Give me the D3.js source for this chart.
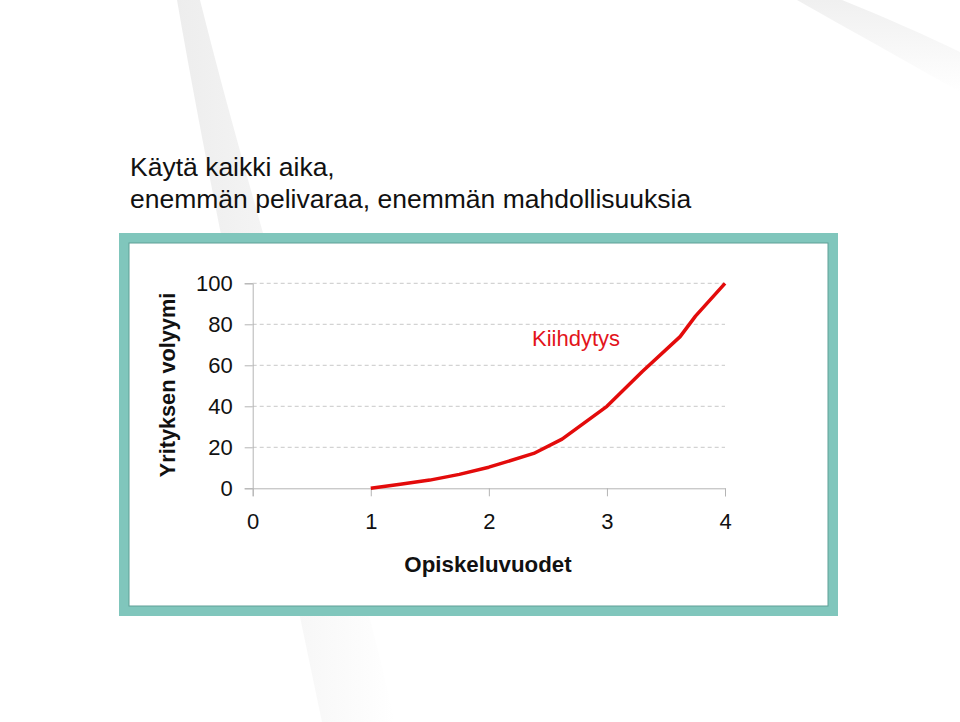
<!DOCTYPE html>
<html><head><meta charset="utf-8">
<script src="https://cdn.jsdelivr.net/npm/d3@7"></script>
<style>body{margin:0;background:#fff;}svg{display:block;font-family:Arial,"Liberation Sans",sans-serif;}</style>
</head><body>
<script>
const titleLines = ["Käytä kaikki aika,", "enemmän pelivaraa, enemmän mahdollisuuksia"];
const xTicks = [0, 1, 2, 3, 4];
const yTicks = [0, 20, 40, 60, 80, 100];
const years = [1, 1.25, 1.5, 1.75, 2, 2.38, 2.62, 3, 3.3, 3.62, 3.75, 4];
const volume = [0, 2, 4, 6.8, 10.3, 17, 24, 40, 57, 74, 84, 100];
const seriesLabel = "Kiihdytys";
const xTitle = "Opiskeluvuodet";
const yTitle = "Yrityksen volyymi";

const W = 960, H = 722;
const FF = "Arial, 'Liberation Sans', sans-serif";
const svg = d3.select("body").append("svg").attr("width", W).attr("height", H);
const defs = svg.append("defs");
const g1 = defs.append("linearGradient").attr("id","sw1").attr("x1","0").attr("y1","0").attr("x2","1").attr("y2","0");
g1.append("stop").attr("offset","0").attr("stop-color","#ededed");
g1.append("stop").attr("offset","0.45").attr("stop-color","#f5f5f5");
g1.append("stop").attr("offset","1").attr("stop-color","#ffffff");
const g2 = defs.append("linearGradient").attr("id","sw2").attr("x1","0").attr("y1","0").attr("x2","0").attr("y2","1");
g2.append("stop").attr("offset","0").attr("stop-color","#f0f0f0");
g2.append("stop").attr("offset","1").attr("stop-color","#ffffff");

svg.append("rect").attr("width",W).attr("height",H).attr("fill","#fff");
// background swooshes
svg.append("path").attr("d","M177,0 C215,220 280,520 322,722 L395,722 C350,520 255,220 200,0 Z").attr("fill","url(#sw1)");
svg.append("path").attr("d","M797,0 L842,0 C882,16 925,35 960,52 L960,92 C915,66 850,30 797,0 Z").attr("fill","url(#sw2)");

// title
svg.append("g").selectAll("text").data(titleLines).join("text")
  .attr("x",130).attr("y",(d,i)=>176+i*32).attr("font-size",26.5).attr("fill","#111").text(d=>d);

// frame
svg.append("rect").attr("x",124).attr("y",238).attr("width",709).attr("height",373)
  .attr("fill","#fff").attr("stroke","#80c6bc").attr("stroke-width",10);
svg.append("rect").attr("x",129).attr("y",243).attr("width",699).attr("height",363)
  .attr("fill","none").attr("stroke","#5e9f96").attr("stroke-width",1);

const x = d3.scaleLinear().domain([0,4]).range([252.7,725]);
const y = d3.scaleLinear().domain([0,100]).range([488.3,283.3]);

// gridlines
svg.append("g").selectAll("line").data(yTicks.filter(d=>d>0)).join("line")
  .attr("x1",x(0)).attr("x2",x(4)).attr("y1",d=>y(d)).attr("y2",d=>y(d))
  .attr("stroke","#c8c8c8").attr("stroke-dasharray","4,3").attr("stroke-width",1);

// y axis
const ya = svg.append("g").attr("transform",`translate(${x(0)},0)`)
  .call(d3.axisLeft(y).tickValues(yTicks).tickFormat(d3.format("d")).tickSize(8).tickPadding(12));
ya.select(".domain").attr("stroke","#b4b4b4");
ya.selectAll(".tick line").attr("stroke","#b4b4b4");
ya.selectAll(".tick text").attr("font-size",22).attr("font-family",FF).attr("fill","#111");

// x axis
const xa = svg.append("g").attr("transform",`translate(0,${y(0)})`)
  .call(d3.axisBottom(x).tickValues(xTicks).tickFormat(d3.format("d")).tickSize(8).tickPadding(17));
xa.select(".domain").attr("stroke","#b4b4b4");
xa.selectAll(".tick line").attr("stroke","#b4b4b4");
xa.selectAll(".tick text").attr("font-size",22).attr("font-family",FF).attr("fill","#111");

// line
const pts = years.map((v,i)=>[v, volume[i]]);
svg.append("path").datum(pts)
  .attr("d", d3.line().x(d=>x(d[0])).y(d=>y(d[1])))
  .attr("fill","none").attr("stroke","#e30b0b").attr("stroke-width",3.5).attr("stroke-linejoin","round");

svg.append("text").attr("x",532).attr("y",346).attr("font-size",22).attr("fill","#e3141b").text(seriesLabel);

svg.append("text").attr("x",488).attr("y",572).attr("text-anchor","middle").attr("font-size",22.3).attr("font-weight","bold").attr("fill","#111").text(xTitle);
svg.append("text").attr("transform","translate(175,385) rotate(-90)").attr("text-anchor","middle").attr("font-size",21.7).attr("font-weight","bold").attr("fill","#111").text(yTitle);
</script>
</body></html>
